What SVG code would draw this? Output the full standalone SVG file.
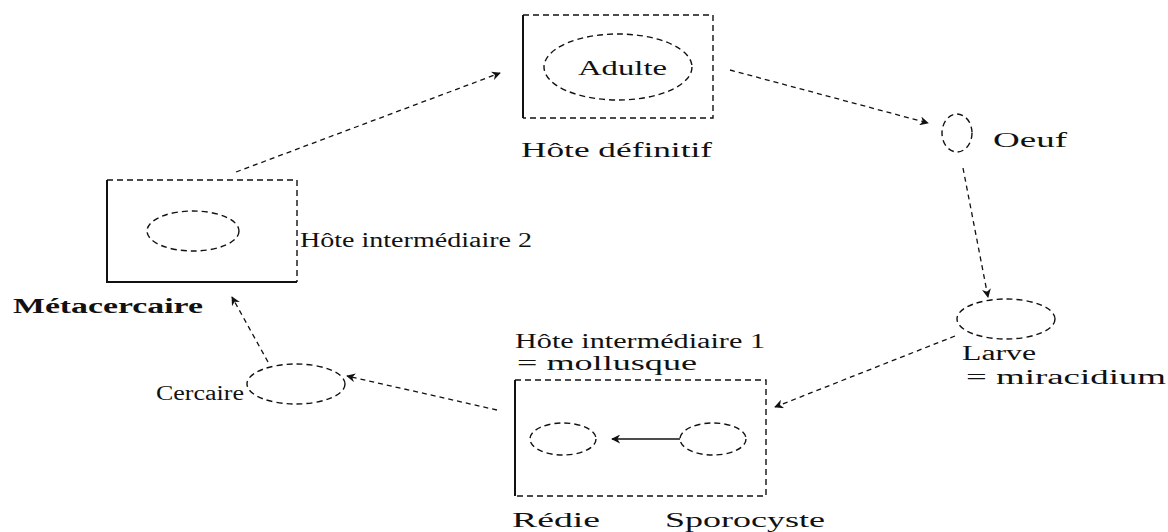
<svg xmlns="http://www.w3.org/2000/svg" width="1168" height="532" viewBox="0 0 1168 532">
<style>
text{font-family:"Liberation Serif","DejaVu Serif",serif;font-size:20px;fill:#111}
.b{font-weight:bold}
.dash{fill:none;stroke:#111;stroke-width:1.4;stroke-dasharray:6 4}
.solid{fill:none;stroke:#111;stroke-width:2}
.con{fill:none;stroke:#111;stroke-width:1.3;stroke-dasharray:5 4}
</style>
<defs>
<marker id="ah" viewBox="0 0 10 10" refX="9" refY="5" markerWidth="9" markerHeight="9" orient="auto" markerUnits="userSpaceOnUse">
<path d="M0,0 L10,5 L0,10 L3,5 Z" fill="#111"/>
</marker>
</defs>
<rect width="1168" height="532" fill="#fff"/>
<g id="connectors">
<line class="con" x1="730" y1="70" x2="928" y2="123" marker-end="url(#ah)"/>
<line class="con" x1="963" y1="168" x2="988" y2="297" marker-end="url(#ah)"/>
<line class="con" x1="955" y1="336" x2="775" y2="407" marker-end="url(#ah)"/>
<line x1="680" y1="439" x2="612" y2="439" stroke="#111" stroke-width="1.3" marker-end="url(#ah)"/>
<line class="con" x1="497" y1="410" x2="347" y2="376" marker-end="url(#ah)"/>
<line class="con" x1="268" y1="362" x2="232" y2="297" marker-end="url(#ah)"/>
<line class="con" x1="236" y1="172" x2="500" y2="73" marker-end="url(#ah)"/>
</g>
<g id="hote-definitif">
<line class="solid" x1="523" y1="15" x2="523" y2="118"/>
<path class="dash" d="M523,15 H713 V118 H523"/>
<ellipse class="dash" cx="618" cy="67" rx="74" ry="33"/>
<text x="578" y="75" textLength="89" lengthAdjust="spacingAndGlyphs">Adulte</text>
<text x="521" y="157" textLength="191" lengthAdjust="spacingAndGlyphs">Hôte définitif</text>
</g>
<g id="oeuf">
<ellipse class="dash" cx="957" cy="133" rx="15" ry="19"/>
<text x="993" y="147" textLength="74" lengthAdjust="spacingAndGlyphs">Oeuf</text>
</g>
<g id="larve">
<ellipse class="dash" cx="1006" cy="319" rx="49" ry="20"/>
<text x="962" y="360" textLength="74" lengthAdjust="spacingAndGlyphs">Larve</text>
<text x="966" y="384" textLength="200" lengthAdjust="spacingAndGlyphs">= miracidium</text>
</g>
<g id="hote-intermediaire-1">
<text x="515" y="348" textLength="250" lengthAdjust="spacingAndGlyphs">Hôte intermédiaire 1</text>
<text x="517" y="370" textLength="180" lengthAdjust="spacingAndGlyphs">= mollusque</text>
<line class="solid" x1="515" y1="380" x2="515" y2="496"/>
<path class="dash" d="M515,380 H766 V496 H515"/>
</g>
<g id="redie">
<ellipse class="dash" cx="563" cy="439" rx="33" ry="16"/>
<text x="512" y="527" textLength="88" lengthAdjust="spacingAndGlyphs">Rédie</text>
</g>
<g id="sporocyste">
<ellipse class="dash" cx="713" cy="439" rx="33" ry="16"/>
<text x="665" y="527" textLength="160" lengthAdjust="spacingAndGlyphs">Sporocyste</text>
</g>
<g id="cercaire">
<ellipse class="dash" cx="296" cy="384" rx="49" ry="20"/>
<text x="156" y="400" textLength="88" lengthAdjust="spacingAndGlyphs">Cercaire</text>
</g>
<g id="hote-intermediaire-2">
<path class="solid" d="M107,180 V282 H297"/>
<path class="dash" d="M107,180 H297 V282"/>
<ellipse class="dash" cx="193" cy="231" rx="46" ry="20"/>
<text x="300" y="247" textLength="232" lengthAdjust="spacingAndGlyphs">Hôte intermédiaire 2</text>
<text class="b" x="13" y="313" textLength="190" lengthAdjust="spacingAndGlyphs">Métacercaire</text>
</g>
</svg>
